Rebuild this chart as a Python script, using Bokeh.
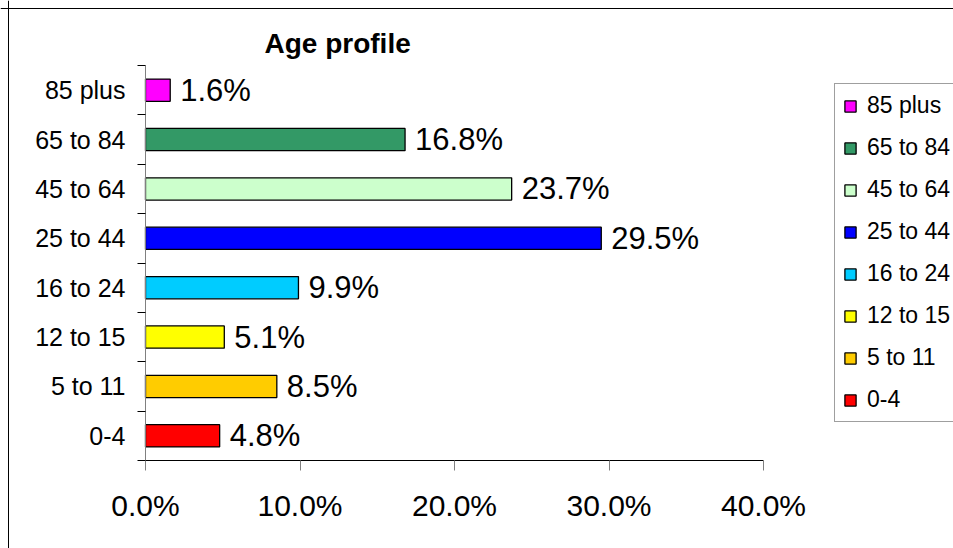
from bokeh.plotting import figure
from bokeh.models import (Range1d, LinearAxis, FixedTicker, Legend, LegendItem,
                          Label, Span, ColumnDataSource)
from bokeh.core.properties import value
from bokeh.embed import file_html
from bokeh.resources import INLINE

# ---- data ----
categories = ["0-4", "5 to 11", "12 to 15", "16 to 24", "25 to 44",
              "45 to 64", "65 to 84", "85 plus"]
percent = [4.8, 8.5, 5.1, 9.9, 29.5, 23.7, 16.8, 1.6]
colors = ["#FF0000", "#FFCC00", "#FFFF00", "#00CCFF", "#0000FF",
          "#CCFFCC", "#339966", "#FF00FF"]
x_ticks = [0, 10, 20, 30, 40]
x_tick_labels = ["0.0%", "10.0%", "20.0%", "30.0%", "40.0%"]
title_text = "Age profile"

FONT = "Liberation Sans"

# ---- geometry (pixels on the canvas) ----
W, H = 953, 548
X0_PX, X40_PX = 145, 763      # where 0% and 40% fall
YB_PX, YT_PX = 460, 65        # bottom / top of the category band
n = len(categories)
sx = (X40_PX - X0_PX) / x_ticks[-1]   # px per percent
sy = (YB_PX - YT_PX) / n              # px per category
x_start, x_end = -X0_PX / sx, (W - X0_PX) / sx
y_start, y_end = -(H - YB_PX) / sy, YB_PX / sy
BORDER_PX = 8

pos = [i + 0.5 for i in range(n)]
src = ColumnDataSource(dict(
    pos=pos, val=percent, color=colors, cat=categories,
    lab=["%.1f%%" % v for v in percent],
))

p = figure(width=W, height=H, output_backend="svg", toolbar_location=None,
           x_range=Range1d(x_start, x_end), y_range=Range1d(y_start, y_end),
           x_axis_location=None, y_axis_location=None,
           min_border=0, min_border_left=0, min_border_right=0,
           min_border_top=0, min_border_bottom=0)
p.outline_line_color = None
p.background_fill_color = "white"
p.border_fill_color = "white"

# x axis
xax = LinearAxis(ticker=FixedTicker(ticks=x_ticks, minor_ticks=[]),
                 bounds=(x_ticks[0], x_ticks[-1]), fixed_location=0)
xax.major_label_overrides = {t: l for t, l in zip(x_ticks, x_tick_labels)}
xax.axis_line_color = "black"
xax.major_tick_line_color = "#808080"
xax.major_tick_out = 10
xax.major_tick_in = 0
xax.minor_tick_line_color = None
xax.major_label_text_font = FONT
xax.major_label_text_font_size = "30px"
xax.major_label_text_color = "black"
xax.major_label_standoff = 18
p.add_layout(xax, "below")

# y axis: labels at centers, ticks at boundaries
yax = LinearAxis(ticker=FixedTicker(ticks=pos, minor_ticks=list(range(n + 1))),
                 bounds=(0, n), fixed_location=0)
yax.major_label_overrides = {pp: c for pp, c in zip(pos, categories)}
yax.axis_line_color = "#808080"
yax.major_tick_line_color = None
yax.major_tick_out = 0
yax.major_tick_in = 0
yax.minor_tick_line_color = "black"
yax.minor_tick_out = 8
yax.minor_tick_in = 0
yax.major_label_text_font = FONT
yax.major_label_text_font_size = "25px"
yax.major_label_text_color = "black"
yax.major_label_standoff = 12
p.add_layout(yax, "left")

for g in p.grid:
    g.visible = False

# outer chart border (left and top edges; the rest lies outside the window)
p.add_layout(Span(location=(BORDER_PX - X0_PX) / sx, dimension="height",
                  line_color="black", line_width=1))
p.add_layout(Span(location=(YB_PX - BORDER_PX) / sy, dimension="width",
                  line_color="black", line_width=1))

r = p.hbar(y="pos", left=0, right="val", height=0.45, fill_color="color",
           line_color="black", line_width=1.3, source=src)

p.text(x="val", y="pos", text="lab", source=src, x_offset=10,
       text_font=value(FONT), text_font_size="31px", text_color="black",
       text_baseline="middle", text_align="left")

items = [LegendItem(label=categories[i], renderers=[r], index=i)
         for i in reversed(range(n))]
legend = Legend(items=items, location=(834, H - 422), orientation="vertical",
                label_text_font=FONT, label_text_font_size="23px",
                label_text_color="black",
                glyph_width=14, glyph_height=14, label_height=20,
                spacing=15, padding=8, margin=0, label_standoff=10,
                border_line_color="#404040", border_line_width=1,
                background_fill_color="white", background_fill_alpha=1)
p.add_layout(legend)

p.add_layout(Label(x=264, y=H - 43, x_units="screen", y_units="screen",
                   text=title_text, text_font=FONT, text_font_size="28px",
                   text_font_style="bold", text_color="black",
                   text_baseline="alphabetic"))

open("out.html", "w").write(file_html(p, INLINE))
